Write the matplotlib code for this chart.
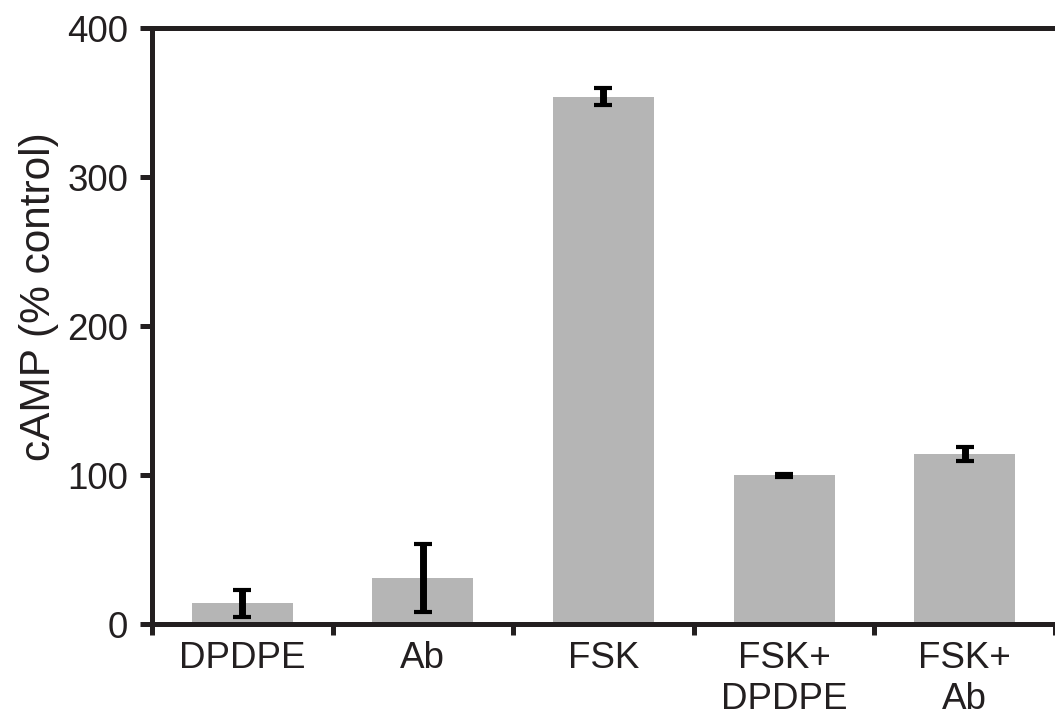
import numpy as np
import matplotlib
matplotlib.use("Agg")
import matplotlib.pyplot as plt

plt.rcParams['font.family'] = ['Liberation Sans', 'DejaVu Sans']

# values (cAMP, % of control)
labels = ['DPDPE', 'Ab', 'FSK', 'FSK+\nDPDPE', 'FSK+\nAb']
means = [14, 31, 354, 100, 114]
errs = [9, 23, 5.5, 1, 4.5]

ink = '#231f20'
x = np.arange(len(labels))

fig = plt.figure(figsize=(10.55, 7.2), dpi=100)
ax = fig.add_axes([0.144, 0.1333, 0.856, 0.8278])

ax.bar(x, means, width=0.56, color='#b5b5b5', edgecolor='none', zorder=1)
ax.errorbar(x, means, yerr=errs, fmt='none', ecolor='black',
            elinewidth=5, capsize=6.5, capthick=3, zorder=3)

ax.set_xlim(-0.5, 4.47)
ax.set_ylim(0, 400)
ax.set_yticks([0, 100, 200, 300, 400])

# category labels at centres, tick marks on the boundaries
ax.set_xticks(x)
ax.set_xticklabels(labels, linespacing=1.25)
ax.set_xticks(np.arange(-0.5, 4.6, 1.0), minor=True)
ax.tick_params(axis='x', which='major', length=0, pad=12, labelsize=26.5, colors=ink)
ax.tick_params(axis='x', which='minor', length=8, width=3.6, direction='out', color=ink)
ax.tick_params(axis='y', length=9, width=3.6, pad=8, labelsize=26.5, colors=ink)

ax.set_ylabel('cAMP (% control)', fontsize=30.5, color=ink)
ax.yaxis.set_label_coords(-0.103, 0.55)

for side in ['left', 'bottom', 'top']:
    ax.spines[side].set_linewidth(3.6)
    ax.spines[side].set_color(ink)
ax.spines['right'].set_visible(False)

fig.savefig('out.png', dpi=100)
